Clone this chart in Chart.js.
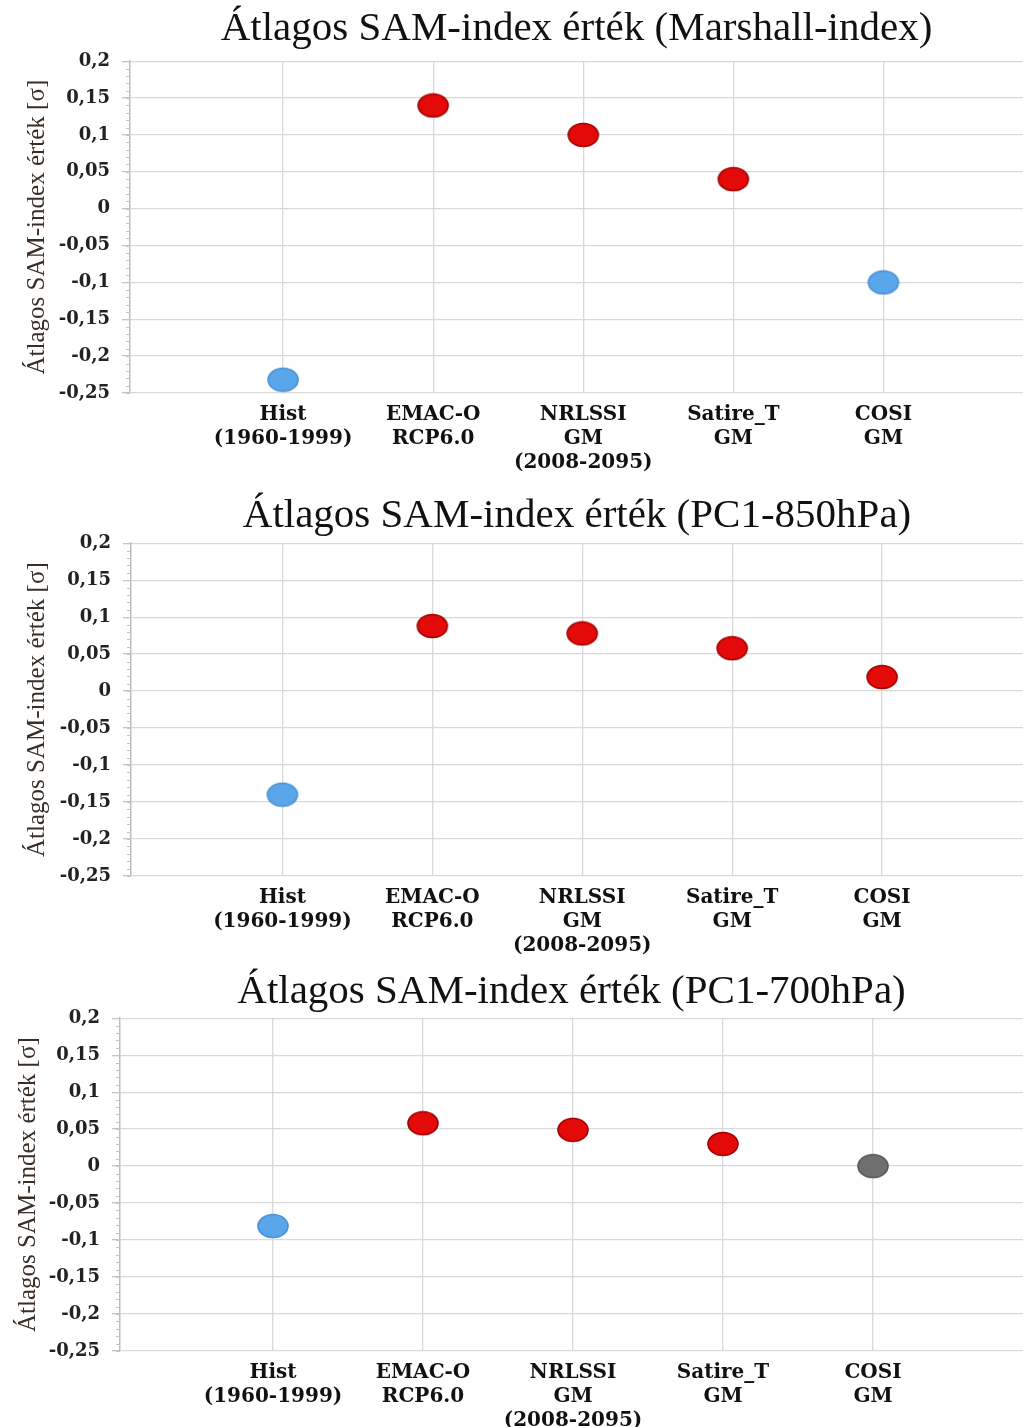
<!DOCTYPE html>
<html>
<head>
<meta charset="utf-8">
<script src="https://cdn.jsdelivr.net/npm/chart.js@4.4.1/dist/chart.umd.min.js"></script>
<style>
  html, body { margin: 0; background: #fff; overflow: hidden; }
  body { width: 1023px; height: 1427px; position: relative; }
  .box { position: absolute; left: 0; width: 1023px; }
</style>
</head>
<body>
<div class="box" style="top:0;height:478px"><canvas id="c1"></canvas></div>
<div class="box" style="top:486px;height:474px"><canvas id="c2"></canvas></div>
<div class="box" style="top:962px;height:465px"><canvas id="c3"></canvas></div>
<script>
// Data
const categories = ['Hist', 'EMAC-O', 'NRLSSI', 'Satire_T', 'COSI'];
const tickLabels = [
    ['Hist', '(1960-1999)'],
    ['EMAC-O', 'RCP6.0'],
    ['NRLSSI', 'GM', '(2008-2095)'],
    ['Satire_T', 'GM'],
    ['COSI', 'GM']
];
const yTicks = [0.2, 0.15, 0.1, 0.05, 0, -0.05, -0.1, -0.15, -0.2, -0.25];
const titles = [
    'Átlagos SAM-index érték (Marshall-index)',
    'Átlagos SAM-index érték (PC1-850hPa)',
    'Átlagos SAM-index érték (PC1-700hPa)'
];
const marshallValues = [-0.232, 0.14, 0.10, 0.04, -0.10];
const pc850Values = [-0.14, 0.088, 0.078, 0.058, 0.019];
const pc700Values = [-0.081, 0.058, 0.049, 0.03, 0.0];
const marshallColors = ['blue', 'red', 'red', 'red', 'blue'];
const pc850Colors = ['blue', 'red', 'red', 'red', 'red'];
const pc700Colors = ['blue', 'red', 'red', 'red', 'gray'];

// point markers (slightly flattened ellipses like the original)
function ellipse(fill, stroke) {
    const c = document.createElement('canvas');
    c.width = 34; c.height = 26;
    const g = c.getContext('2d');
    g.beginPath();
    g.ellipse(17, 13, 15, 11.5, 0, 0, Math.PI * 2);
    g.fillStyle = fill;
    g.fill();
    g.lineWidth = 1.6;
    g.strokeStyle = stroke;
    g.stroke();
    return c;
}
const markers = {
    red: ellipse('#e50a0a', '#9e0000'),
    blue: ellipse('#5aa6ea', '#4a90d6'),
    gray: ellipse('#6f6f6f', '#5a5a5a')
};

const fmt = v => {
    const n = Number(v.toFixed(2));
    return (n === 0 ? '0' : String(n)).replace('.', ',');
};

// small minor ticks on the y axis line
const minorTicks = {
    id: 'minorTicks',
    afterDraw(chart) {
        const y = chart.scales.y, ctx = chart.ctx, left = chart.chartArea.left;
        ctx.save();
        ctx.strokeStyle = '#c4c4c4';
        ctx.lineWidth = 1;
        for (let k = -25; k <= 20; k++) {
            const py = Math.round(y.getPixelForValue(k / 100)) + 0.5;
            ctx.beginPath();
            ctx.moveTo(left - 4, py);
            ctx.lineTo(left, py);
            ctx.stroke();
        }
        ctx.restore();
    }
};

const wideSerif = '"DejaVu Serif", "Liberation Serif", serif';
const serif = '"Liberation Serif", "Times New Roman", serif';

function makeChart(id, title, values, colors, g) {
    const ctx = document.getElementById(id).getContext('2d');
    return new Chart(ctx, {
        type: 'scatter',
        data: {
            datasets: [{
                data: values.map((v, i) => ({ x: i, y: v })),
                pointStyle: colors.map(c => markers[c]),
                pointRadius: 14,
                pointHoverRadius: 14
            }]
        },
        options: {
            responsive: true,
            maintainAspectRatio: false,
            animation: false,
            events: [],
            layout: { padding: 0, autoPadding: false },
            scales: {
                x: {
                    type: 'linear',
                    min: g.xMin,
                    max: g.xMax,
                    afterBuildTicks: s => { s.ticks = categories.map((c, i) => ({ value: i })); },
                    afterFit: s => { s.height = g.xH; },
                    ticks: {
                        autoSkip: false,
                        maxRotation: 0,
                        padding: 10,
                        color: '#111',
                        font: { family: wideSerif, size: 20, weight: 'bold', lineHeight: 1.2 },
                        callback: v => tickLabels[v] || ''
                    },
                    grid: { color: '#d9d9d9', lineWidth: 1.3, drawTicks: false },
                    border: { display: false }
                },
                y: {
                    min: -0.25,
                    max: 0.2,
                    afterBuildTicks: s => { s.ticks = yTicks.map(v => ({ value: v })); },
                    afterFit: s => { s.width = g.yW; },
                    ticks: {
                        padding: 12,
                        color: '#222',
                        font: { family: wideSerif, size: 18, weight: 'bold' },
                        callback: v => fmt(v)
                    },
                    grid: { color: '#d9d9d9', lineWidth: 1.3, tickLength: 8, tickColor: '#c4c4c4' },
                    border: { color: '#bdbdbd', width: 1.5 },
                    title: {
                        display: true,
                        text: 'Átlagos SAM-index érték [σ]',
                        color: '#3a2e26',
                        padding: { top: g.ytPad, bottom: 0 },
                        font: { family: serif, size: 25 }
                    }
                }
            },
            plugins: {
                legend: { display: false },
                tooltip: { enabled: false },
                title: {
                    display: true,
                    text: title,
                    fullSize: false,
                    color: '#111',
                    padding: { top: g.tTop, bottom: g.tBottom },
                    font: { family: serif, size: 41, weight: 'normal' }
                }
            }
        },
        plugins: [minorTicks]
    });
}

makeChart('c1', titles[0], marshallValues, marshallColors,
    { xMin: -1.02, xMax: 4.93, yW: 130, xH: 85, tTop: 5, tBottom: 7, ytPad: 22 });
makeChart('c2', titles[1], pc850Values, pc850Colors,
    { xMin: -1.01, xMax: 4.94, yW: 131, xH: 84, tTop: 6, tBottom: 2, ytPad: 22 });
makeChart('c3', titles[2], pc700Values, pc700Colors,
    { xMin: -1.02, xMax: 5.0, yW: 120, xH: 76, tTop: 6, tBottom: 1, ytPad: 13 });
</script>
</body>
</html>
